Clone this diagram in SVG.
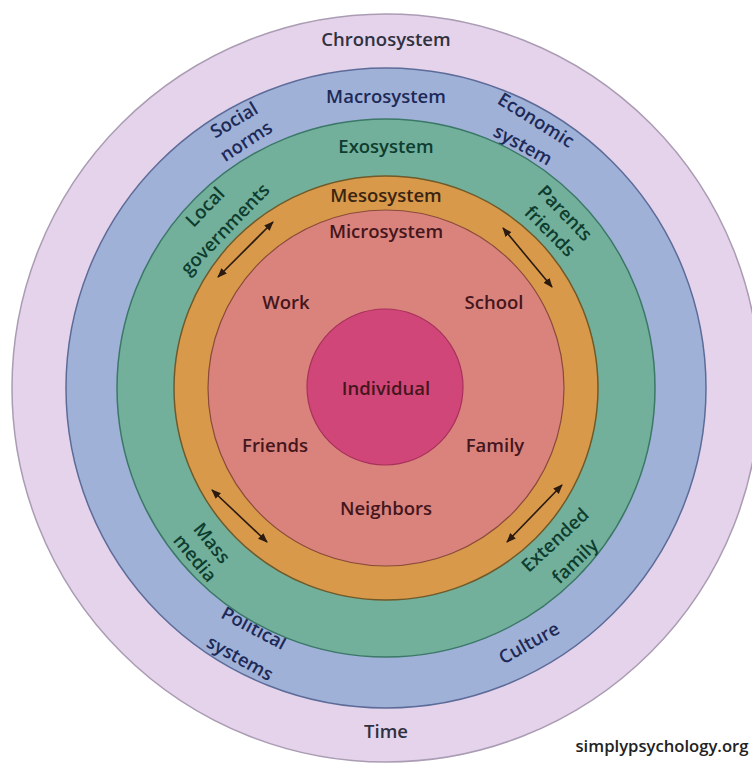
<svg xmlns="http://www.w3.org/2000/svg" width="752" height="763" viewBox="0 0 752 763">
<defs>
<style>
text{font-family:"Open Sans","Noto Sans","Liberation Sans",sans-serif;text-anchor:middle;font-weight:600}
.ring{font-size:18.5px}
.lbl{font-size:18.5px}
.chrono{fill:#2f3140}
.macro{fill:#1d2a57}
.exo{fill:#0e3d2f}
.meso{fill:#3b2410}
.micro{fill:#45161c}
.arrow{stroke:#2a1a10;stroke-width:1.6;fill:none;marker-start:url(#ah);marker-end:url(#ah)}
</style>
<marker id="ah" viewBox="0 0 10 10" refX="9" refY="5" markerWidth="6" markerHeight="6" orient="auto-start-reverse" markerUnits="strokeWidth">
<path d="M0,1 L10,5 L0,9 z" fill="#2a1a10"/>
</marker>
</defs>
<rect width="752" height="763" fill="#ffffff"/>
<g id="chronosystem">
<circle cx="386" cy="388" r="374" fill="#e4d3ea" stroke="#aa9cb3" stroke-width="1.5"/>
<text class="ring chrono" x="386" y="46">Chronosystem</text>
<text class="ring chrono" x="386" y="738">Time</text>
</g>
<g id="macrosystem">
<circle cx="386" cy="388" r="320" fill="#a0b1d8" stroke="#5c6b98" stroke-width="1.5"/>
<text class="ring macro" x="386" y="103">Macrosystem</text>
<text class="lbl macro" transform="translate(234,120) rotate(-31)" dy="0.35em">Social</text>
<text class="lbl macro" transform="translate(246,141) rotate(-33)" dy="0.35em">norms</text>
<text class="lbl macro" transform="translate(536,120) rotate(32)" dy="0.35em">Economic</text>
<text class="lbl macro" transform="translate(523,145) rotate(29)" dy="0.35em">system</text>
<text class="lbl macro" transform="translate(254,628) rotate(28)" dy="0.35em">Political</text>
<text class="lbl macro" transform="translate(240,658) rotate(29)" dy="0.35em">systems</text>
<text class="lbl macro" transform="translate(529,643) rotate(-29)" dy="0.35em">Culture</text>
</g>
<g id="exosystem">
<circle cx="386" cy="388" r="269" fill="#72b09b" stroke="#3b7868" stroke-width="1.5"/>
<text class="ring exo" x="386" y="153">Exosystem</text>
<text class="lbl exo" transform="translate(205,207) rotate(-46)" dy="0.35em">Local</text>
<text class="lbl exo" transform="translate(225,229) rotate(-46)" dy="0.35em">governments</text>
<text class="lbl exo" transform="translate(565,213) rotate(46)" dy="0.35em">Parents</text>
<text class="lbl exo" transform="translate(550,231) rotate(45)" dy="0.35em">friends</text>
<text class="lbl exo" transform="translate(212,543) rotate(51)" dy="0.35em">Mass</text>
<text class="lbl exo" transform="translate(195,558) rotate(50)" dy="0.35em">media</text>
<text class="lbl exo" transform="translate(555,540) rotate(-43)" dy="0.35em">Extended</text>
<text class="lbl exo" transform="translate(575,561) rotate(-44)" dy="0.35em">family</text>
</g>
<g id="mesosystem">
<circle cx="386" cy="388" r="212" fill="#d8994b" stroke="#6f5a2a" stroke-width="1.5"/>
<text class="ring meso" x="386" y="202">Mesosystem</text>
</g>
<g id="microsystem">
<circle cx="386" cy="388" r="178" fill="#da837d" stroke="#8a4a3a" stroke-width="1.2"/>
<text class="ring micro" x="386" y="238">Microsystem</text>
<text class="lbl micro" x="286" y="309">Work</text>
<text class="lbl micro" x="494" y="309">School</text>
<text class="lbl micro" x="275" y="452">Friends</text>
<text class="lbl micro" x="495" y="452">Family</text>
<text class="lbl micro" x="386" y="515">Neighbors</text>
</g>
<g id="individual">
<circle cx="385" cy="387" r="78" fill="#d04679" stroke="#a8305a" stroke-width="1.2"/>
<text class="lbl micro" x="386" y="395">Individual</text>
</g>
<g id="connectors">
<line class="arrow" x1="218" y1="277" x2="273" y2="222"/>
<line class="arrow" x1="503" y1="228" x2="552" y2="287"/>
<line class="arrow" x1="212" y1="490" x2="267" y2="542"/>
<line class="arrow" x1="507" y1="542" x2="562" y2="485"/>
</g>
<text x="662" y="752" style="font-size:15.5px;fill:#222222" textLength="173" lengthAdjust="spacingAndGlyphs">simplypsychology.org</text>
</svg>
